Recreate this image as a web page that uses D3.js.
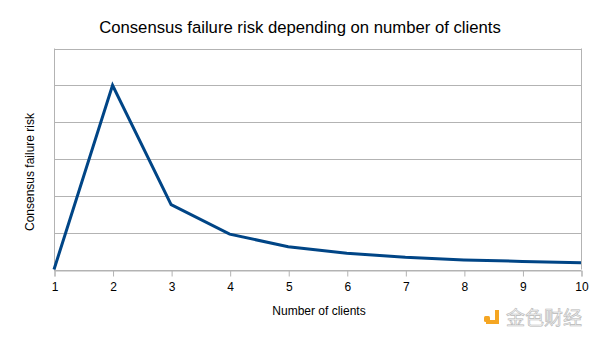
<!DOCTYPE html>
<html><head><meta charset="utf-8">
<script src="https://cdn.jsdelivr.net/npm/d3@7"></script>
<style>body{margin:0;background:#fff}svg{display:block}</style>
</head><body>
<svg id="c" width="600" height="337"></svg>
<script>
const clients = [1,2,3,4,5,6,7,8,9,10];
const risk = [0, 5, 1.76, 0.96, 0.62, 0.44, 0.33, 0.26, 0.22, 0.18];
const yTicks = [0,1,2,3,4,5,6];
const title = "Consensus failure risk depending on number of clients";
const xTitle = "Number of clients";
const yTitle = "Consensus failure risk";

const svg = d3.select("#c");
const W = 600, H = 337;
const m = {l:54, r:19, t:48.5, b:67.5};
const x = d3.scaleLinear().domain([1,10]).range([m.l, W-m.r]);
const y = d3.scaleLinear().domain([0,6]).range([H-m.b, m.t]);
const font = "'Liberation Sans', Arial, sans-serif";

svg.append("rect").attr("width",W).attr("height",H).attr("fill","#fff");

// gridlines
svg.append("g").selectAll("line").data(yTicks).join("line")
  .attr("x1", m.l).attr("x2", W-m.r)
  .attr("y1", d=>Math.round(y(d))+0.5).attr("y2", d=>Math.round(y(d))+0.5)
  .attr("stroke","#b3b3b3").attr("stroke-width",1);
// side borders
[m.l, W-m.r].forEach(px=>{
  svg.append("line").attr("x1",px+0.5).attr("x2",px+0.5)
    .attr("y1",y(6)).attr("y2",y(0)).attr("stroke","#b3b3b3");
});

// x axis
const xAxis = d3.axisBottom(x).tickValues(clients).tickFormat(d3.format("d")).tickSize(6).tickPadding(6.3);
const gx = svg.append("g").attr("transform",`translate(0.5,${Math.round(y(0))+0.5})`).call(xAxis);
gx.select(".domain").attr("stroke","#b3b3b3");
gx.selectAll(".tick line").attr("stroke","#b3b3b3");
gx.selectAll(".tick text").attr("font-family",font).attr("font-size",12).attr("fill","#000");

// line
const line = d3.line().x((d,i)=>x(clients[i])).y(d=>y(d));
svg.append("path").datum(risk).attr("d",line)
  .attr("fill","none").attr("stroke","#004586").attr("stroke-width",3)
  .attr("stroke-linejoin","miter");

// titles
svg.append("text").attr("x",300).attr("y",33).attr("text-anchor","middle")
  .attr("font-family",font).attr("font-size",16.7).attr("fill","#000").text(title);
svg.append("text").attr("x",319).attr("y",314.5).attr("text-anchor","middle")
  .attr("font-family",font).attr("font-size",12).attr("fill","#000").text(xTitle);
svg.append("text").attr("transform","translate(34,172) rotate(-90)").attr("text-anchor","middle")
  .attr("font-family",font).attr("font-size",12).attr("fill","#000").text(yTitle);

// watermark
const wm = svg.append("g").attr("transform","translate(484,308)");
wm.append("rect").attr("x",0).attr("y",8).attr("width",6).attr("height",6).attr("rx",1.5).attr("fill","#f5a623");
wm.append("path").attr("d","M9,2 h6 v14 h-13 v-4 h9 v-10 z").attr("fill","#f5a623");
wm.append("text").attr("x",22).attr("y",17).attr("font-family","'Noto Sans CJK SC', sans-serif")
  .attr("font-size",19).attr("fill","#f2f2f2").attr("stroke","#b8b8b8").attr("stroke-width",0.6).text("金色财经");
</script>
</body></html>
